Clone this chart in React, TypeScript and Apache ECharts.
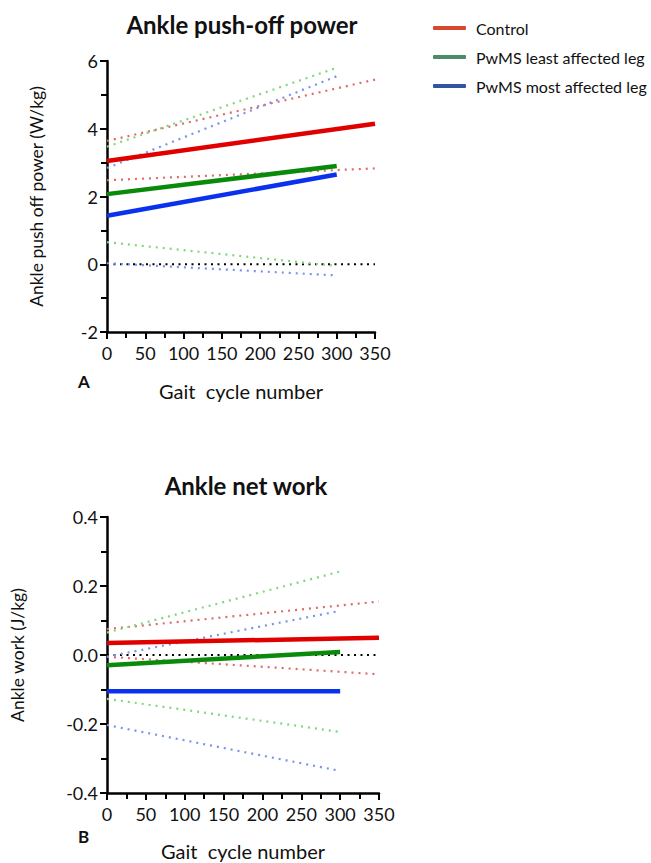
import React, { useEffect, useRef } from "react";
import * as echarts from "echarts";

// ---- Data ----
const xControl = [0, 350];
const xPwMS = [0, 300];

const powerControl = [3.05, 4.15];
const powerControlUpper = [3.64, 5.45];
const powerControlLower = [2.48, 2.83];
const powerLeast = [2.07, 2.9];
const powerLeastUpper = [3.47, 5.8];
const powerLeastLower = [0.65, -0.05];
const powerMost = [1.43, 2.65];
const powerMostUpper = [2.84, 5.55];
const powerMostLower = [0.03, -0.33];

const workControl = [0.035, 0.05];
const workControlUpper = [0.075, 0.155];
const workControlLower = [-0.005, -0.056];
const workLeast = [-0.03, 0.009];
const workLeastUpper = [0.065, 0.242];
const workLeastLower = [-0.127, -0.223];
const workMost = [-0.105, -0.105];
const workMostUpper = [-0.005, 0.128];
const workMostLower = [-0.203, -0.336];

const zeroLine = [0, 0];

const legendNames = ["Control", "PwMS least affected leg", "PwMS most affected leg"];
const legendColors = ["#d9472f", "#4d8a68", "#2f55a3"];

const FONT = "Lato";

const solid = { red: "#e00000", green: "#0a8a0a", blue: "#0a32ee" };
const dotted = { red: "#e06a6a", green: "#7fd87f", blue: "#7a92ee" };

function pts(xs: number[], ys: number[]) {
  return xs.map((x, i) => [x, ys[i]]);
}

function line(idx: number, xs: number[], ys: number[], color: string, kind: "solid" | "dot" | "zero") {
  return {
    type: "line",
    xAxisIndex: idx,
    yAxisIndex: idx,
    data: pts(xs, ys),
    symbol: "none",
    silent: true,
    z: kind === "solid" ? 5 : 3,
    lineStyle: {
      color,
      width: kind === "solid" ? 4.5 : 2.2,
      type: kind === "solid" ? "solid" : kind === "zero" ? [2, 4.5] : [2, 5],
      cap: "butt",
    },
  };
}

function xAxis(gridIndex: number) {
  return {
    type: "value",
    gridIndex,
    min: 0,
    max: 350,
    interval: 50,
    name: "Gait  cycle number",
    nameLocation: "middle",
    nameGap: gridIndex === 0 ? 49 : 48,
    nameTextStyle: { fontFamily: FONT, fontSize: 20, color: "#111" },
    axisLine: { show: true, onZero: false, lineStyle: { color: "#000", width: 2.5 } },
    axisTick: { show: true, length: 7, lineStyle: { color: "#000", width: 2 } },
    minorTick: { show: true, splitNumber: 2, length: 6, lineStyle: { color: "#000", width: 2 } },
    splitLine: { show: false },
    axisLabel: { fontFamily: FONT, fontSize: 18, color: "#111", margin: 12 },
  };
}

function yAxis(gridIndex: number, min: number, max: number, interval: number, name: string, nameGap: number, digits: number) {
  return {
    type: "value",
    gridIndex,
    min,
    max,
    interval,
    name,
    nameLocation: "middle",
    nameGap,
    nameTextStyle: { fontFamily: FONT, fontSize: 17.5, color: "#111" },
    axisLine: { show: true, onZero: false, lineStyle: { color: "#000", width: 2.5 } },
    axisTick: { show: true, length: 7, lineStyle: { color: "#000", width: 2 } },
    minorTick: { show: true, splitNumber: 2, length: 6, lineStyle: { color: "#000", width: 2 } },
    splitLine: { show: false },
    axisLabel: {
      fontFamily: FONT,
      fontSize: 18,
      color: "#111",
      margin: 9,
      formatter: (v: number) => v.toFixed(digits),
    },
  };
}

export default function App() {
  const ref = useRef<HTMLDivElement>(null);
  useEffect(() => {
    document.body.style.margin = "0";
    const chart = echarts.init(ref.current!, null, { renderer: "svg" });
    const option: any = {
      animation: false,
      backgroundColor: "#fff",
      title: [
        {
          text: "Ankle push-off power",
          left: 237,
          top: 7,
          textAlign: "center",
          textStyle: { fontFamily: FONT, fontSize: 24, fontWeight: "bold", color: "#111" },
        },
        {
          text: "Ankle net work",
          left: 241,
          top: 468,
          textAlign: "center",
          textStyle: { fontFamily: FONT, fontSize: 24, fontWeight: "bold", color: "#111" },
        },
      ],
      legend: {
        orient: "vertical",
        left: 433,
        top: 19,
        padding: 0,
        itemGap: 11,
        itemWidth: 33,
        itemHeight: 4,
        icon: "roundRect",
        selectedMode: false,
        data: legendNames.map((n, i) => ({ name: n, itemStyle: { color: legendColors[i] } })),
        textStyle: { fontFamily: FONT, fontSize: 16, color: "#111", lineHeight: 18, padding: [0, 0, 0, 5] },
      },
      grid: [
        { left: 107, top: 61, width: 268, height: 271, containLabel: false },
        { left: 107, top: 517, width: 272, height: 276, containLabel: false },
      ],
      xAxis: [xAxis(0), xAxis(1)],
      yAxis: [
        yAxis(0, -2, 6, 2, "Ankle push off power (W/kg)", 62, 0),
        yAxis(1, -0.4, 0.4, 0.2, "Ankle work (J/kg)", 81, 1),
      ],
      graphic: [
        { type: "text", left: 78, top: 373, style: { text: "A", fontFamily: FONT, fontSize: 17, fontWeight: "bold", fill: "#111" } },
        { type: "text", left: 78, top: 828, style: { text: "B", fontFamily: FONT, fontSize: 17, fontWeight: "bold", fill: "#111" } },
      ],
      series: [
        ...legendNames.map((n, i) => ({ type: "line", name: n, data: [], xAxisIndex: 0, yAxisIndex: 0, itemStyle: { color: legendColors[i] }, lineStyle: { color: legendColors[i] } })),
        // top chart
        line(0, xControl, zeroLine, "#000", "zero"),
        line(0, xControl, powerControlUpper, dotted.red, "dot"),
        line(0, xControl, powerControlLower, dotted.red, "dot"),
        line(0, xPwMS, powerLeastUpper, dotted.green, "dot"),
        line(0, xPwMS, powerLeastLower, dotted.green, "dot"),
        line(0, xPwMS, powerMostUpper, dotted.blue, "dot"),
        line(0, xPwMS, powerMostLower, dotted.blue, "dot"),
        line(0, xControl, powerControl, solid.red, "solid"),
        line(0, xPwMS, powerLeast, solid.green, "solid"),
        line(0, xPwMS, powerMost, solid.blue, "solid"),
        // bottom chart
        line(1, xControl, zeroLine, "#000", "zero"),
        line(1, xControl, workControlUpper, dotted.red, "dot"),
        line(1, xControl, workControlLower, dotted.red, "dot"),
        line(1, xPwMS, workLeastUpper, dotted.green, "dot"),
        line(1, xPwMS, workLeastLower, dotted.green, "dot"),
        line(1, xPwMS, workMostUpper, dotted.blue, "dot"),
        line(1, xPwMS, workMostLower, dotted.blue, "dot"),
        line(1, xControl, workControl, solid.red, "solid"),
        line(1, xPwMS, workLeast, solid.green, "solid"),
        line(1, xPwMS, workMost, solid.blue, "solid"),
      ],
    };
    chart.setOption(option);
    return () => chart.dispose();
  }, []);
  return <div ref={ref} style={{ width: 651, height: 863 }} />;
}
